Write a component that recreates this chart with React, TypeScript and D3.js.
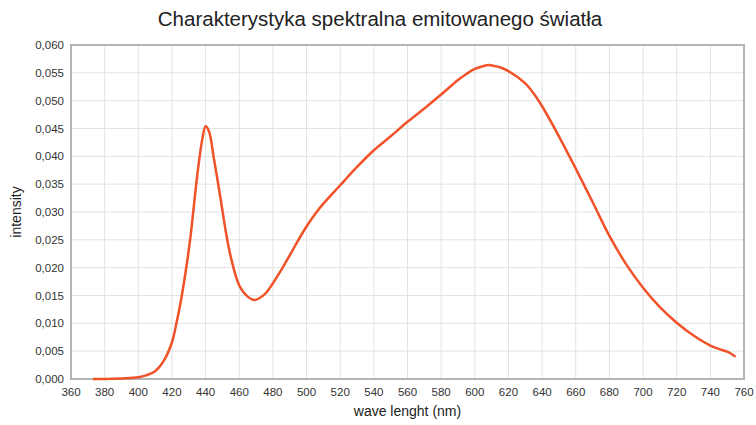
import { useEffect, useRef } from 'react';
import * as d3 from 'd3';

// wavelength (nm) and intensity
const wavelengths = [
  373, 380, 390, 400, 405, 410, 415, 420, 423, 425, 428, 431, 435, 438, 440, 442, 445, 449, 452,
  455, 460, 465, 469, 475, 480, 485, 490, 495, 500, 505, 510, 520, 530, 540, 550, 560, 570, 580,
  590, 595, 600, 605, 608, 612, 615, 620, 630, 635, 640, 650, 660, 670, 680, 690, 700, 710, 720,
  730, 740, 745, 750, 755,
];
const intensities = [
  0.0, 0.0, 0.0001, 0.0003, 0.0007, 0.0014, 0.0032, 0.0066, 0.0105, 0.0135, 0.019, 0.0255,
  0.0365, 0.043, 0.0454, 0.0445, 0.0395, 0.0322, 0.0265, 0.0219, 0.0168, 0.0148, 0.0142, 0.0152,
  0.0172, 0.0196, 0.0222, 0.0249, 0.0274, 0.0296, 0.0315, 0.0348, 0.0381, 0.0411, 0.0436, 0.0462,
  0.0486, 0.0511, 0.0537, 0.0548, 0.0557, 0.0562, 0.0564, 0.0562, 0.056, 0.0553, 0.0531, 0.0513,
  0.049, 0.0436, 0.0378, 0.0318, 0.0257, 0.0206, 0.0164, 0.0129, 0.0101, 0.0078, 0.006, 0.0054,
  0.0049, 0.004,
];
const xTicks = d3.range(360, 761, 20);
const yTicks = d3.range(0, 0.0601, 0.005);

const WIDTH = 756;
const HEIGHT = 425;
const MARGIN = { top: 45, right: 12, bottom: 46, left: 71 };
const FONT = '"Liberation Sans", Arial, Helvetica, sans-serif';

export default function App() {
  const svgRef = useRef<SVGSVGElement>(null);

  useEffect(() => {
    if (!svgRef.current) return;
    const innerWidth = WIDTH - MARGIN.left - MARGIN.right;
    const innerHeight = HEIGHT - MARGIN.top - MARGIN.bottom;

    const svg = d3.select(svgRef.current);
    svg.selectAll('*').remove();
    svg.attr('width', WIDTH).attr('height', HEIGHT).attr('viewBox', `0 0 ${WIDTH} ${HEIGHT}`);

    const x = d3.scaleLinear().domain([360, 760]).range([0, innerWidth]);
    const y = d3.scaleLinear().domain([0, 0.06]).range([innerHeight, 0]);

    const g = svg.append('g').attr('transform', `translate(${MARGIN.left},${MARGIN.top})`);

    // grid
    g.append('g')
      .selectAll('line')
      .data(xTicks)
      .join('line')
      .attr('x1', (d) => x(d))
      .attr('x2', (d) => x(d))
      .attr('y1', 0)
      .attr('y2', innerHeight)
      .attr('stroke', '#e2e2e2');
    g.append('g')
      .selectAll('line')
      .data(yTicks)
      .join('line')
      .attr('x1', 0)
      .attr('x2', innerWidth)
      .attr('y1', (d) => y(d))
      .attr('y2', (d) => y(d))
      .attr('stroke', '#e2e2e2');

    // frame
    g.append('rect')
      .attr('width', innerWidth)
      .attr('height', innerHeight)
      .attr('fill', 'none')
      .attr('stroke', '#b4b4b4')
      .attr('stroke-width', 2);

    // tick labels
    g.append('g')
      .selectAll('text')
      .data(xTicks)
      .join('text')
      .attr('x', (d) => x(d))
      .attr('y', innerHeight + 17)
      .attr('text-anchor', 'middle')
      .attr('font-family', FONT)
      .attr('font-size', 11.5)
      .attr('fill', '#333')
      .text((d) => String(d));
    g.append('g')
      .selectAll('text')
      .data(yTicks)
      .join('text')
      .attr('x', -7)
      .attr('y', (d) => y(d) + 4)
      .attr('text-anchor', 'end')
      .attr('font-family', FONT)
      .attr('font-size', 11.5)
      .attr('fill', '#333')
      .text((d) => d3.format('.3f')(d).replace('.', ','));

    // curve
    const line = d3
      .line<number>()
      .x((d, i) => x(wavelengths[i]))
      .y((d) => y(d))
      .curve(d3.curveCatmullRom.alpha(0.5));
    g.append('path')
      .datum(intensities)
      .attr('d', line)
      .attr('fill', 'none')
      .attr('stroke', '#f0522a')
      .attr('stroke-width', 2.5)
      .attr('stroke-linejoin', 'round');

    // titles
    svg
      .append('text')
      .attr('x', 380)
      .attr('y', 26)
      .attr('text-anchor', 'middle')
      .attr('font-family', FONT)
      .attr('font-size', 20.5)
      .attr('fill', '#222')
      .text('Charakterystyka spektralna emitowanego światła');
    svg
      .append('text')
      .attr('x', MARGIN.left + innerWidth / 2)
      .attr('y', 416)
      .attr('text-anchor', 'middle')
      .attr('font-family', FONT)
      .attr('font-size', 14)
      .attr('fill', '#222')
      .text('wave lenght (nm)');
    svg
      .append('text')
      .attr('transform', `translate(21,${MARGIN.top + innerHeight / 2}) rotate(-90)`)
      .attr('text-anchor', 'middle')
      .attr('font-family', FONT)
      .attr('font-size', 14)
      .attr('fill', '#222')
      .text('intensity');
  }, []);

  return <svg ref={svgRef} style={{ position: 'absolute', left: 0, top: 0, display: 'block' }} />;
}
